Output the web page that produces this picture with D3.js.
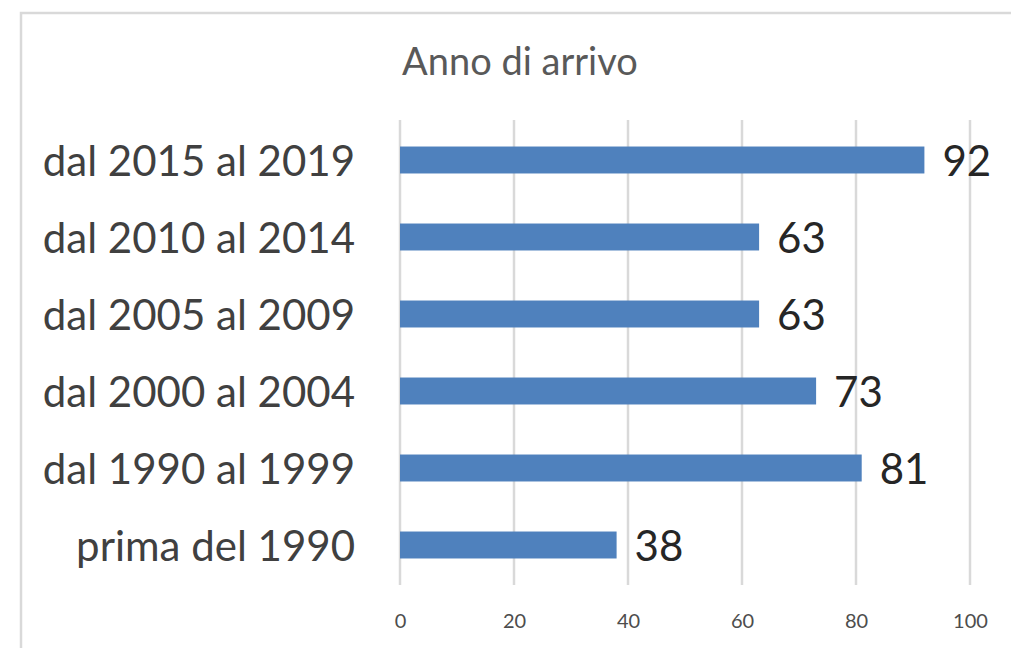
<!DOCTYPE html>
<html>
<head>
<meta charset="utf-8">
<script src="https://cdn.jsdelivr.net/npm/d3@7"></script>
<style>
  body { margin: 0; background: #fff; }
  svg { display: block; }
</style>
</head>
<body>
<div id="chart"></div>
<script>
(function() {
    var width = 1011;
    var height = 648;

    var title = "Anno di arrivo";
    var categories = ["dal 2015 al 2019", "dal 2010 al 2014", "dal 2005 al 2009",
                      "dal 2000 al 2004", "dal 1990 al 1999", "prima del 1990"];
    var values = [92, 63, 63, 73, 81, 38];
    var tickValues = [0, 20, 40, 60, 80, 100];

    var svg = d3.select("#chart").append("svg")
        .attr("width", width)
        .attr("height", height);

    // chart area frame (runs off the right and bottom edges)
    svg.append("rect")
        .attr("x", 21)
        .attr("y", 13)
        .attr("width", 1100)
        .attr("height", 700)
        .attr("fill", "#fff")
        .attr("stroke", "#d9d9d9")
        .attr("stroke-width", 2.5);

    var x = d3.scaleLinear()
        .domain([0, 100])
        .range([400, 970]);

    var y = d3.scaleBand()
        .domain(categories)
        .range([121.5, 583.5])
        .paddingInner(0.65)
        .paddingOuter(0.325);

    var font = "Lato, 'Open Sans', sans-serif";

    svg.append("text")
        .attr("x", 520)
        .attr("y", 60)
        .attr("text-anchor", "middle")
        .attr("dominant-baseline", "central")
        .style("font-family", font)
        .style("font-size", "38px")
        .style("fill", "#595959")
        .text(title);

    // gridlines
    svg.append("g").selectAll("line")
        .data(tickValues)
        .enter().append("line")
        .attr("x1", function(d) { return x(d); })
        .attr("x2", function(d) { return x(d); })
        .attr("y1", 120)
        .attr("y2", 585)
        .attr("stroke", "#d9d9d9")
        .attr("stroke-width", 2.5);

    // x axis tick labels
    var xAxis = d3.axisBottom(x).tickValues(tickValues).tickSize(0).tickPadding(0);
    var gx = svg.append("g")
        .attr("transform", "translate(0,620)")
        .call(xAxis);
    gx.select(".domain").remove();
    gx.selectAll("text")
        .attr("dy", null)
        .attr("dominant-baseline", "central")
        .style("font-family", font)
        .style("font-size", "20px")
        .style("fill", "#4d4d4d");

    // category labels
    var yAxis = d3.axisLeft(y).tickSize(0).tickPadding(0);
    var gy = svg.append("g")
        .attr("transform", "translate(355,0)")
        .call(yAxis);
    gy.select(".domain").remove();
    gy.selectAll("text")
        .attr("dy", null)
        .attr("dominant-baseline", "central")
        .style("font-family", font)
        .style("font-size", "42px")
        .style("fill", "#404040");

    var rows = categories.map(function(c, i) { return { cat: c, val: values[i] }; });

    svg.append("g").selectAll("rect")
        .data(rows)
        .enter().append("rect")
        .attr("x", x(0))
        .attr("y", function(d) { return y(d.cat); })
        .attr("width", function(d) { return x(d.val) - x(0); })
        .attr("height", y.bandwidth())
        .attr("fill", "#4f81bd");

    svg.append("g").selectAll("text")
        .data(rows)
        .enter().append("text")
        .attr("x", function(d) { return x(d.val) + 18; })
        .attr("y", function(d) { return y(d.cat) + y.bandwidth() / 2; })
        .attr("dominant-baseline", "central")
        .style("font-family", font)
        .style("font-size", "42px")
        .style("fill", "#262626")
        .text(function(d) { return d.val; });
})();
</script>
</body>
</html>
